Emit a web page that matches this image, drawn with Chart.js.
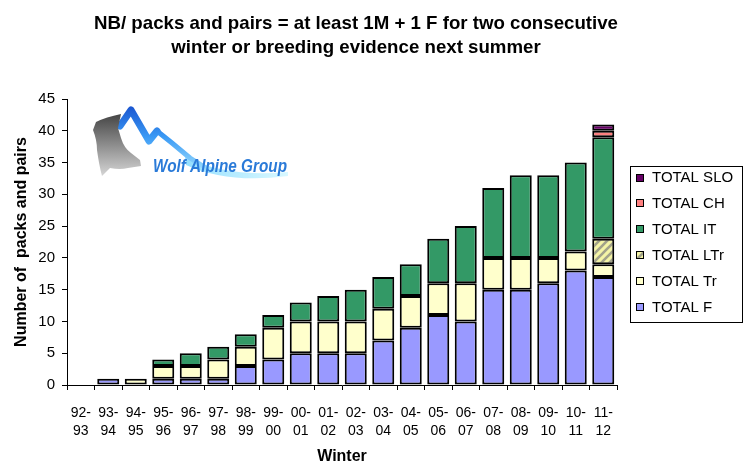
<!DOCTYPE html>
<html>
<head>
<meta charset="utf-8">
<script src="https://cdn.jsdelivr.net/npm/chart.js@4.4.1/dist/chart.umd.min.js"></script>
<style>
html,body{margin:0;padding:0;background:#ffffff;}
#wrap{width:745px;height:466px;position:relative;}
</style>
</head>
<body>
<div id="wrap"><canvas id="c" width="745" height="466"></canvas></div>
<script>
// ---- data ----
const categories = [
  ['92-','93'],['93-','94'],['94-','95'],['95-','96'],['96-','97'],
  ['97-','98'],['98-','99'],['99-','00'],['00-','01'],['01-','02'],
  ['02-','03'],['03-','04'],['04-','05'],['05-','06'],['06-','07'],
  ['07-','08'],['08-','09'],['09-','10'],['10-','11'],['11-','12']
];
const totalF   = [0,1,0,1,1,1,3,4,5,5,5,7,9,11,10,15,15,16,18,17];
const totalTr  = [0,0,1,2,2,3,3,5,5,5,5,5,5,5,6,5,5,4,3,2];
const totalLTr = [0,0,0,0,0,0,0,0,0,0,0,0,0,0,0,0,0,0,0,4];
const totalIT  = [0,0,0,1,2,2,2,2,3,4,5,5,5,7,9,11,13,13,14,16];
const totalCH  = [0,0,0,0,0,0,0,0,0,0,0,0,0,0,0,0,0,0,0,1];
const totalSLO = [0,0,0,0,0,0,0,0,0,0,0,0,0,0,0,0,0,0,0,1];
const seriesLabels = ['TOTAL F','TOTAL Tr','TOTAL LTr','TOTAL IT','TOTAL CH','TOTAL SLO'];
const yTicks = [0,5,10,15,20,25,30,35,40,45];
const titleLines = ['NB/ packs and pairs = at least 1M + 1 F for two consecutive','winter or breeding evidence next summer'];
const xTitle = 'Winter';
const yTitle = 'Number of  packs and pairs';
const logoText = 'Wolf Alpine Group';

const FONT = '"Liberation Sans", Arial, sans-serif';
const canvas = document.getElementById('c');
const ctx0 = canvas.getContext('2d');

function makeHatch(){
  const s = 8;
  const c = document.createElement('canvas'); c.width = s; c.height = s;
  const g = c.getContext('2d');
  g.fillStyle = '#f4f4a6'; g.fillRect(0,0,s,s);
  g.strokeStyle = '#a2a28a'; g.lineWidth = 2.6;
  g.beginPath();
  g.moveTo(-2, s+2); g.lineTo(s+2, -2);
  g.moveTo(-2, 2); g.lineTo(2, -2);
  g.moveTo(s-2, s+2); g.lineTo(s+2, s-2);
  g.stroke();
  return ctx0.createPattern(c, 'repeat');
}
const hatch = makeHatch();

const colors = ['#9999ff','#ffffcc',hatch,'#339966','#ff8080','#660066'];
const seriesData = [totalF,totalTr,totalLTr,totalIT,totalCH,totalSLO];

const datasets = seriesData.map((d,i)=>({
  label: seriesLabels[i],
  data: d,
  backgroundColor: colors[i],
  borderColor: '#000000',
  borderWidth: 2,
  borderSkipped: false,
  barPercentage: 0.8,
  categoryPercentage: 1.0
}));

// ---- plugins ----
const titlePlugin = {
  id: 'mainTitle',
  afterDraw(chart){
    const c = chart.ctx; c.save();
    c.font = 'bold 19px ' + FONT;
    c.fillStyle = '#000';
    c.textAlign = 'center'; c.textBaseline = 'alphabetic';
    const w = c.measureText(titleLines[0]).width;
    const sx = 524 / w;
    const cx = 356;
    [29, 53].forEach((y,i)=>{
      c.save(); c.translate(cx, y); c.scale(sx, 1);
      c.fillText(titleLines[i], 0, 0);
      c.restore();
    });
    c.restore();
  }
};

const legendPlugin = {
  id: 'boxLegend',
  afterDraw(chart){
    const c = chart.ctx; c.save();
    c.strokeStyle = '#000'; c.lineWidth = 1;
    c.strokeRect(630.5, 166.5, 112, 156);
    c.font = '15px ' + FONT;
    c.textAlign = 'left'; c.textBaseline = 'middle';
    const ds = chart.data.datasets.slice().reverse();
    ds.forEach((d,i)=>{
      const y = 177.5 + i*25.9;
      c.fillStyle = d.backgroundColor;
      c.fillRect(636, Math.round(y)-3.5, 7, 7);
      c.strokeStyle = '#000';
      c.strokeRect(636.5, Math.round(y)-3.5, 7, 7);
      c.fillStyle = '#000';
      c.fillText(d.label, 652, y+0.5);
    });
    c.restore();
  }
};

const logoPlugin = {
  id: 'logo',
  afterDraw(chart){
    const c = chart.ctx; c.save();
    // swoosh under text
    let g = c.createLinearGradient(185,0,290,0);
    g.addColorStop(0,'rgba(140,220,255,0.95)');
    g.addColorStop(1,'rgba(200,245,255,0.7)');
    c.fillStyle = g;
    c.beginPath();
    c.moveTo(185,157); c.quadraticCurveTo(228,178,288,172);
    c.lineTo(288,176); c.quadraticCurveTo(228,184,186,165); c.closePath();
    c.fill();
    // mountain brush
    g = c.createLinearGradient(0,106,0,175);
    g.addColorStop(0,'#1a55d0');
    g.addColorStop(0.45,'#3a9af5');
    g.addColorStop(1,'#a8e6ff');
    c.strokeStyle = g; c.lineJoin = 'round'; c.lineCap = 'round';
    c.lineWidth = 7;
    c.beginPath();
    c.moveTo(120,126); c.lineTo(131,110); c.lineTo(149,141);
    c.lineTo(157,131); c.stroke();
    c.lineWidth = 5;
    c.beginPath();
    c.moveTo(157,131); c.lineTo(172,143); c.lineTo(190,158); c.lineTo(206,168);
    c.stroke();
    // wolf head
    g = c.createLinearGradient(0,112,0,178);
    g.addColorStop(0,'#404040');
    g.addColorStop(1,'#dadada');
    c.fillStyle = g;
    c.beginPath();
    c.moveTo(121,114); c.quadraticCurveTo(106,117,96,122);
    c.lineTo(93,130); c.quadraticCurveTo(97,140,97,150);
    c.quadraticCurveTo(99,165,102,176);
    c.lineTo(110,168); c.quadraticCurveTo(120,170,128,168);
    c.lineTo(141,166); c.lineTo(140,160); c.lineTo(131,153);
    c.quadraticCurveTo(124,148,121,138); c.lineTo(118,128);
    c.closePath();
    c.fill();
    // text
    c.font = 'italic bold 18px ' + FONT;
    const w = c.measureText(logoText).width;
    g = c.createLinearGradient(0,158,0,173);
    g.addColorStop(0,'#2a7ad8'); g.addColorStop(1,'#0c3f98');
    c.fillStyle = g;
    c.textBaseline = 'alphabetic'; c.textAlign = 'left';
    c.translate(153,172); c.scale(134/w,1);
    c.fillText(logoText,0,0);
    c.restore();
  }
};

new Chart(canvas, {
  type: 'bar',
  data: { labels: categories, datasets: datasets },
  options: {
    responsive: false,
    devicePixelRatio: 1,
    animation: false,
    layout: { padding: { top: 99, right: 128, left: 0, bottom: 0 } },
    plugins: { legend: { display: false }, title: { display: false }, tooltip: { enabled: false } },
    scales: {
      x: {
        stacked: true,
        offset: true,
        grid: { offset: true, drawOnChartArea: false, drawTicks: true, tickLength: 5, color: '#000', lineWidth: 1 },
        border: { display: true, color: '#000', width: 1 },
        ticks: { color: '#000', font: { family: FONT, size: 14, lineHeight: 1.3 }, padding: 14, maxRotation: 0, autoSkip: false },
        title: { display: true, text: xTitle, color: '#000', font: { family: FONT, size: 16, weight: 'bold' }, padding: { top: 0, bottom: 0 } },
        afterFit(s){ s.height = 81; }
      },
      y: {
        stacked: true,
        min: 0, max: 45,
        afterBuildTicks(s){ s.ticks = yTicks.map(v => ({ value: v })); },
        grid: { drawOnChartArea: false, drawTicks: true, tickLength: 5, color: '#000', lineWidth: 1 },
        border: { display: true, color: '#000', width: 1 },
        ticks: { color: '#000', font: { family: FONT, size: 15 }, padding: 7 },
        title: { display: true, text: yTitle, color: '#000', font: { family: FONT, size: 16, weight: 'bold' }, padding: { top: 12, bottom: 0 } },
        afterFit(s){ s.width = 67; }
      }
    }
  },
  plugins: [titlePlugin, legendPlugin, logoPlugin]
});
</script>
</body>
</html>
